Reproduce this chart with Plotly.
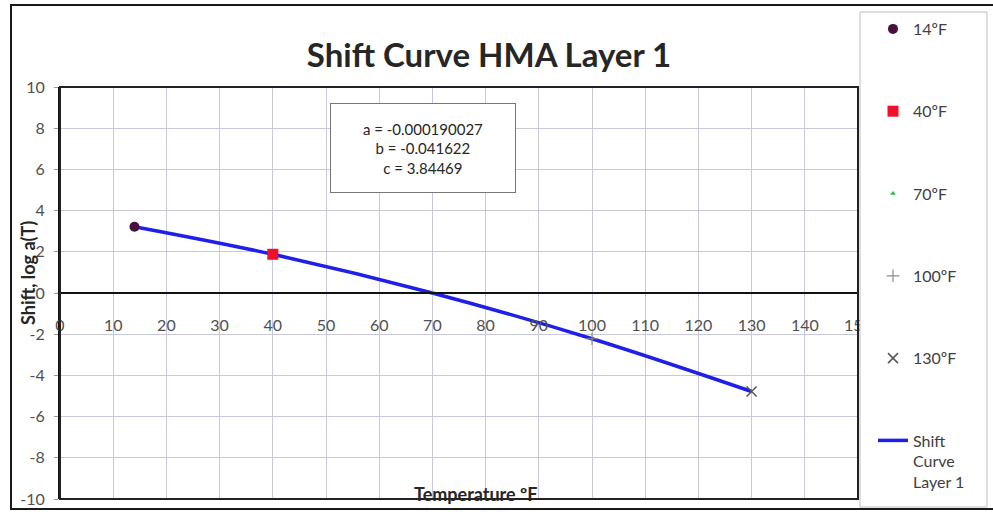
import plotly.graph_objects as go

# Shift factor data for HMA layer 1
temps_f = [14, 40, 70, 100, 130]
series_names = ["14ºF", "40ºF", "70ºF", "100ºF", "130ºF"]
shift_log_aT = [3.22, 1.88, 0.00, -2.22, -4.78]

# fitted shift curve (same temperatures)
curve_temps = [14, 40, 70, 100, 130]
curve_shift = [3.22, 1.88, 0.00, -2.22, -4.78]

coef_a = "-0.000190027"
coef_b = "-0.041622"
coef_c = "3.84469"

x_ticks = list(range(0, 151, 10))
y_ticks = list(range(-10, 11, 2))

FONT = "Lato, 'Open Sans', sans-serif"
W, H = 993, 512

marker_styles = [
    dict(symbol="circle", size=10, color="#4a0f3c"),
    dict(symbol="square", size=11, color="#f0102a"),
    dict(symbol="triangle-up", size=5, color="#2cb84a"),
    dict(symbol="cross-thin", size=9, color="#8a8a8a", line=dict(width=1.2, color="#8a8a8a")),
    dict(symbol="x-thin", size=10, color="#555555", line=dict(width=1.5, color="#555555")),
]

fig = go.Figure()

# fitted curve drawn first so the point markers sit on top
fig.add_trace(go.Scatter(
    x=curve_temps, y=curve_shift, mode="lines",
    name="Shift<br>Curve<br>Layer 1",
    line=dict(color="#1f1fe8", width=3.5, shape="spline"),
    legendgroup="g5", legendrank=6,
))

for i, (name, t, v) in enumerate(zip(series_names, temps_f, shift_log_aT)):
    fig.add_trace(go.Scatter(
        x=[t], y=[v], mode="markers", name=name,
        marker=marker_styles[i], legendgroup=f"g{i}", legendrank=i + 1,
    ))

grid_color = "#c8c8dc"

# pixel -> paper coordinate helpers (plot area spans 60..858 x 87..499)
px_x = lambda p: (p - 60) / 798
px_y = lambda p: (499 - p) / 412

fig.update_layout(
    width=W, height=H,
    margin=dict(l=60, r=135, t=87, b=13, autoexpand=False),
    paper_bgcolor="white", plot_bgcolor="white",
    font=dict(family=FONT, size=16, color="#404040"),
    title=dict(
        text="<b>Shift Curve HMA Layer 1</b>",
        font=dict(family=FONT, size=33, color="#262626"),
        xref="paper", x=px_x(489), xanchor="center",
        yref="container", y=1 - 55 / H, yanchor="middle",
    ),
    showlegend=True,
    legend=dict(
        xref="container", yref="container",
        x=873 / W, xanchor="left", y=1 - 12 / H, yanchor="top",
        borderwidth=0, bgcolor="rgba(0,0,0,0)",
        font=dict(family=FONT, size=16, color="#404040"),
        tracegroupgap=58.5, valign="top", traceorder="grouped",
        maxheight=1,
    ),
    xaxis=dict(
        range=[0, 150], tickvals=x_ticks, ticktext=[str(v) for v in x_ticks],
        showgrid=True, gridcolor=grid_color, gridwidth=1,
        zeroline=False,
        showline=True, linecolor="#111111", linewidth=2,
        anchor="free", position=0.5,
        ticks="", ticklabelstandoff=18,
        tickfont=dict(size=16, color="#505050"),
    ),
    yaxis=dict(
        range=[-10, 10], tickvals=y_ticks, ticktext=[str(v) for v in y_ticks],
        showgrid=True, gridcolor=grid_color, gridwidth=1,
        zeroline=False,
        showline=True, linecolor="#111111", linewidth=2,
        ticks="outside", ticklen=4, tickcolor="#999999",
        ticklabelstandoff=6,
        tickfont=dict(size=16, color="#505050"),
    ),
)

# plot area frame
fig.add_shape(type="rect", xref="x domain", yref="y domain",
              x0=0, x1=1, y0=0, y1=1,
              line=dict(color="#222222", width=2), layer="above")

# outer chart frame
fig.add_shape(type="rect", xref="paper", yref="paper",
              x0=px_x(11), x1=px_x(1030), y0=px_y(509), y1=px_y(5),
              line=dict(color="#1a1a1a", width=2), layer="below")

# legend frame (white panel sits over the last x tick label)
fig.add_shape(type="rect", xref="paper", yref="paper",
              x0=px_x(860), x1=px_x(987), y0=px_y(507), y1=px_y(12),
              line=dict(color="#bdbdbd", width=1), fillcolor="white", layer="above")

# coefficients box
fig.add_annotation(
    xref="paper", yref="paper", x=px_x(423), y=px_y(148),
    xanchor="center", yanchor="middle",
    text=f"a = {coef_a}<br>b = {coef_b}<br>c = {coef_c}",
    showarrow=False, align="center", width=168, height=72,
    font=dict(family=FONT, size=15, color="#262626"),
    bordercolor="#777777", borderwidth=1, borderpad=8, bgcolor="white",
)

# axis titles
fig.add_annotation(
    xref="paper", yref="paper", x=px_x(475), y=px_y(494),
    xanchor="center", yanchor="middle",
    text="<b>Temperature ºF</b>", showarrow=False,
    font=dict(family=FONT, size=18, color="#262626"),
)
fig.add_annotation(
    xref="paper", yref="paper", x=px_x(28), y=px_y(273),
    xanchor="center", yanchor="middle",
    text="<b>Shift, log a(T)</b>", showarrow=False, textangle=-90,
    font=dict(family=FONT, size=18, color="#262626"),
)

fig.write_html("out.html")
